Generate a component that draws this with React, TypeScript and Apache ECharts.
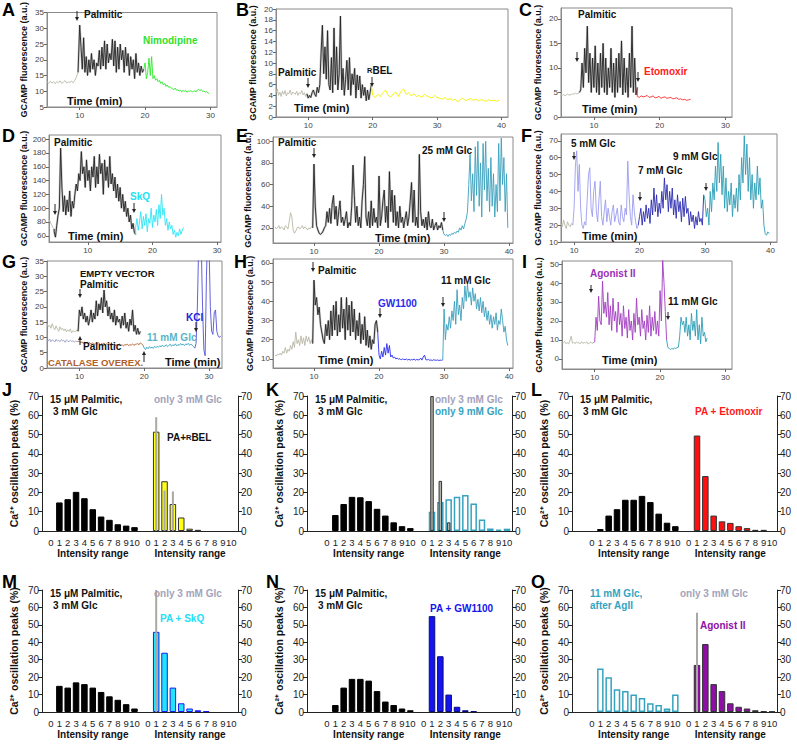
import React, { useEffect, useRef } from 'react';
import * as echarts from 'echarts';

const FONT = "'Liberation Sans', Arial, Helvetica, sans-serif";

// ---------- Trace data (t0, step in min, values) ----------
const A_base = [13,12.5,13.2,12.6,13,12.4,13.1,12.7,13.3,12.5,12.9,13.4,12.6,13,12.8,13.2,12.7,13.5,14.5,16];
const A_palm = [31,24,17,27,16,21,15,20,16,22,17,20,15,19,18,23,17,24,18,26,17,25,19,22,20,26.5,18,26,16,24,17,25,20,23,16,24,18,22,15,21,17,20,14,22,16,19,15,18,16,17];
const A_nimo = [19,14,16,20.5,15,21,14,15,13.5,14,13,13.5,12.5,13,12,12.5,11.5,12,11.2,11.5,11,10.8,10.5,11,10.3,10.5,10,10.4,9.8,10.2,10,10.3,9.7,10.1,9.9,10.2,9.8,10,10.1,9.8,10.4,10.6,10.2,10.5,9.9,10.1,9.7,9.9,9.5,9.3];

const B_base = [4.5,5.2,4,4.6,3.8,4.8,4.2,4.9,3.9,4.5,4.3,5,4.1,4.6,4.4,4.2,4.8,4,4.5,4.3,4.9,4.1,4.5,3.8,4.3];
const B_palm = [3.5,4,3.6,4.5,5,4.2,3.8,5.5,4.5,6,12,17,8,13,7,16,6,5,11,4.5,16.5,6,13,5,8,18.7,5,9,4,7,10.5,5,11,4,8,6,9,3.5,7.8,5,7.6,3.5,6,4,5.5,3,5,3.2,4.5,6];
const B_rbel = [4,3.6,4.2,3.8,4.5,5,4,3.7,4.3,4.6,3.8,4.8,5.2,4.2,4.5,3.9,4.3,3.8,4,3.6,4.2,3.9,3.7,3.5,4,3.6,3.5,3.3,3.6,3.2,3.4,3.1,3.3,2.8,3.2,3.5,3,3.2,3.4,3.1,3.3,3,3.2,3.1,2.9,3.2,3,3.1,2.9,3.1];

const C_base = [4.5,4.4,4.6,4.3,4.5,4.7,4.4,4.6,4.5,4.8,4.6,4.9,4.7,4.8,5];
const C_palm = [5.5,11,6,14,9,18.5,7,13,5,12,6,14.5,5,11,4.5,13,6,15,5,12,4.5,10,6,14,5,11,4,12,5,13,6,15.5,4.5,12,5,10,4,13,6,18.5,5,12,4.5,6];
const C_etom = [4.2,4,4.3,4.1,4.2,4.4,4,4.1,4.3,3.9,4,4.2,3.8,4,4.1,3.8,3.9,4,3.7,3.8,3.9,3.6,3.7,3.5,3.6,3.4,3.5,3.6];

const D_base = [84,80,76,72,70];
const D_palm = [66,58,75,90,100,187,130,95,118,90,112,95,125,88,110,100,120,135,125,150,140,182,150,160,130,170,140,155,125,160,145,175,130,160,135,178,150,165,120,170,140,160,130,175,135,150,125,145,115,135,110,130,100,120,95,110,88,100,80,90,70,78,65,62];
const D_skq = [72,85,68,80,95,70,88,75,92,66,85,78,100,72,90,80,98,75,105,85,120,90,100,75,85,68,80,70,75,62,68,58,65,60,70,62,68,72];

const E_base = [21,19,20,22,19,21,20,18,22,21,19,26,34,30,18,15,17,20,21,19,20,22,19,21,20,18,20,19,21,20];
const E_palm = [79,40,22,18,15,14,15,17,20,22,35,25,38,24,42,50,28,40,22,35,45,25,30,22,28,35,20,25,22,40,78,50,25,40,22,30,20,45,60,86,30,22,35,20,45,22,38,25,30,20,68,22,30,45,55,25,40,20,72,35,55,25,50,22,35,20,40,25,30,20,28,35,22,30,45,62,25,55,22,30,20,88,35,22,28,20,30,18,35,22,20,28,18,22,25,18,22,20,25,18];
const E_glc25 = [14,13,14,12,14,13,15,14,16,15,17,16,20,18,22,19,24,28,35,60,88,45,70,35,95,50,100,40,80,30,98,55,100,45,75,35,85,40,70,30,60,35,98,45,103,60,85,35,70,20];

const F_base = [21,19,23,20,18,22,20,19,21,20];
const F_glc5 = [30,55,64,40,56,30,20,18,22,20,35,50,54,30,25,40,46,28,22,35,46,25,20,28,35,22,30,25,20,28,32,22,26,30,22,20,32,25,22,30,26,58,38,25,20,38,28,22,18,20];
const F_glc7 = [25,30,20,28,22,32,24,30,21,35,26,42,28,38,25,33,27,40,30,48,35,44,28,40,30,42,26,35,24,38,28,34,22,36,25,37,27,30,20,28,22,26,18,25,20,28,22,24,20,38];
const F_glc9 = [35,25,30,20,40,28,45,35,55,40,69,45,62,38,55,30,48,28,40,32,45,25,38,30,42,28,50,35,60,45,73,50,68,40,60,35,50,30,45,35,55,38,48,30,35,20,15,14,16,15];

const G_base = [14.5,13.5,14,13,14.5,13.2,12.5,13.8,12.8,12,13.5,12.5,13,12.2,12.8,11.8,12.5,12,12.8,11.5,12.2,12,11.8,12.5,12];
const G_palm = [19,17,20,16,18,15,17,14,16,19,15,18,16,22,17,21,19,23,18,25.5,20,22,17,20,16,18,15,19,14,17,15,16,13,17,14,18,13,15,12,16,14,19,12,14,11,13,11,12];
const G_catBase = [9.3,8.8,9.5,8.6,9.2,9,8.5,9.4,8.8,9.1,8.6,9.3,8.9,9,8.4,9.2,8.8,8.6,9.1,8.7,8.9,8.5,8.8,8.6,8.7];
const G_catPalm = [8.8,8.2,8.6,8,8.5,8.1,8.4,7.9,8.3,7.8,8.2,8,7.7,8.1,7.9,8.3,7.6,8,7.8,8.2,7.5,7.9,7.7,8,7.4,7.8,7.6,7.9,7.3,7.7,7.5,7.8,7.4,7.6,7.2,7.7,7.5,7.8,7.3,7.6,7.5,7.9,7.4,7.7,7.8,8,7.6,8.2,7.9,7.5];
const G_glc11 = [6.5,6,6.8,6.3,7,6.5,6.8,6.4,7.1,6.7,7,6.8,7.3,6.9,7.5,7,7.2,7.6,7,7.4,7.8,7.1,7.6,7.3,7.9,7.2,7.7,7.4,8,7.5,7.8,7.3,7.9,7.6,8.1,7.4,7.8,7.5,7,6.5];
const G_kcl = [8,20,40,45,40,20,6,4,30,45,40,20,12,11,18,19,12,10.5,10,10.5];

const H_base = [12,11.5,12.5,12,13,12,14,13,16,13,15,14,17,15,19,16,24,18,20,17,22,18,21,17,22,19,21.5,18,20,18];
const H_palm = [51,38,42,33,37,28,24,20,18,28,22,30,20,35,22,38,25,40,22,33,24,42,26,36,20,42,25,38,22,40,24,36,20,30,22,34,18,28,20,32,17,25,16,22,15,20,18,28,30,24];
const H_gw = [12,10,14,11,16,12,18,13,17,11,12,10.5,11,10,10.5,9.8,10.2,9.5,10,9.8,9.6,10,9.5,9.8,9.4,9.7,9.5,10,9.3,9.8,9.5,9.6,10.5,9.4,11,12,9.6,9.5,9.8,9.3,9.5,9.2,9.6,9.4,9.3,9.5,9.2,9.4,9.3,9.5];
const H_glc11 = [36,20,28,25,32,26,35,30,40,28,46,33,38,30,42,36,48,40,49,42,45,38,47,40,44,36,41,35,42,34,40,32,37,30,35,28,33,26,32,28,34,25,30,28,36,30,24,27,20,17];

const I_base = [9,8.5,9.2,8,8.7,7.8,9.5,12,8.3,8.8,8,9,8.4,8.6,7.9,9.1,8.2,8.7,8.4,9,7.8,8.5,8.9,8.2,8.6];
const I_ago = [9,22,15,33,20,18,41,24,30,22,35,18,28,15,32,20,25,14,30,18,24,12,28,16,22,11,26,15,20,10,24,14,32,18,22,12,26,16,20,10,23,14,28,12,22,15,25,13,20,12,36,20,52,40,25,10];
const I_glc11 = [6,5.5,5,5.5,5.2,5.8,5.5,6,6.2,12,22,18,20,14,22,12,18,10,24,15,20,12,26,10,18,8,22,12,14,9,11];

// ---------- Histogram data (intensity range 0..10, % of peaks) ----------
const INTENSITY = [0,1,2,3,4,5,6,7,8,9,10];
const J_palm = [0,14.8,16.5,20.3,17,11.3,7.5,5.8,3.5,2.8,2];
const J_rbel = [0,51.5,25.8,14,7,1.2,0.6,0,0,0,0];
const J_glc3 = [0,59,21,20.5,0,0,0,0,0,0,0];
const K_palm = [0,8.3,14,17.7,17.5,15.5,11.5,8,4.5,2.5,1.5];
const K_glc9 = [0,10,15,16.5,17.7,18.7,14.3,6,1.3,0.7,1.2];
const K_glc3 = [0,70,26,4.5,0,0,0,0,0,0,0];
const L_palm = [0,1,8,11.3,16.2,16.2,18.2,15,9,4.3,2.5];
const L_etom = [0,49.5,28.5,8,5,4.2,2.5,1.5,0.6,0.6,0];
const M_palm = [0,15,14,17,16,14,11.5,9,7,4.5,2];
const M_skq = [0,46,34,14,5,2,1,0.5,0,0,0];
const M_glc3 = [0,70,0,0,0,0,0,0,0,0,0];
const N_palm = [0,4,14,19,19,18,12,6,4,2,1];
const N_gw = [0,55,32,10,3,1,0.5,0,0,0,0];
const O_glc11 = [0,25,20,13,12,10,8,5,4,2,10];
const O_ago = [0,27,39,16,12,5,3,2,1,0.5,0.3];
const O_glc3 = [0,57,0,0,0,0,0,0,0,0,0];

const C_GRAY = '#b9b8a6';
const C_BLACK = '#222222';

type Seg = { t0: number; dt: number; v: number[]; color: string };

const TRACES = [
  { rect: [47, 9, 170, 98], x: [5, 31], y: [5, 35], xt: [10, 20, 30], yt: [5, 10, 15, 20, 25, 30, 35],
    segs: [
      { t0: 5, dt: 0.25, v: A_base, color: C_GRAY },
      { t0: 10, dt: 0.2, v: A_palm, color: C_BLACK },
      { t0: 20, dt: 0.2, v: A_nimo, color: '#2ee82e' },
    ] as Seg[] },
  { rect: [276, 9, 232, 108], x: [5, 41], y: [0, 20], xt: [10, 20, 30, 40], yt: [0, 2, 4, 6, 8, 10, 12, 14, 16, 18, 20],
    segs: [
      { t0: 5, dt: 0.2, v: B_base, color: C_GRAY },
      { t0: 10, dt: 0.2, v: B_palm, color: C_BLACK },
      { t0: 20, dt: 0.4, v: B_rbel, color: '#f2f200' },
    ] as Seg[] },
  { rect: [561, 8, 171, 109], x: [5, 31], y: [0, 22.2], xt: [10, 20, 30], yt: [0, 5, 10, 15, 20],
    segs: [
      { t0: 5, dt: 0.2, v: C_base, color: C_GRAY },
      { t0: 8, dt: 0.2, v: C_palm, color: C_BLACK },
      { t0: 16.6, dt: 0.3, v: C_etom, color: '#ff2a2a' },
    ] as Seg[] },
  { rect: [49, 135, 172, 107], x: [4, 30.6], y: [51, 206], xt: [10, 20, 30], yt: [60, 80, 100, 120, 140, 160, 180, 200],
    segs: [
      { t0: 4, dt: 0.2, v: D_base, color: C_GRAY },
      { t0: 4.8, dt: 0.2, v: D_palm, color: C_BLACK },
      { t0: 17.4, dt: 0.2, v: D_skq, color: '#2ae6f6' },
    ] as Seg[] },
  { rect: [273, 137, 240, 106], x: [3.7, 40.6], y: [6, 104], xt: [10, 20, 30, 40], yt: [20, 40, 60, 80, 100],
    segs: [
      { t0: 4, dt: 0.2, v: E_base, color: C_GRAY },
      { t0: 10, dt: 0.2, v: E_palm, color: C_BLACK },
      { t0: 30, dt: 0.2, v: E_glc25, color: '#3a9fbc' },
    ] as Seg[] },
  { rect: [561, 134, 216, 108], x: [8, 41], y: [10, 74], xt: [10, 20, 30, 40], yt: [10, 20, 30, 40, 50, 60, 70],
    segs: [
      { t0: 8, dt: 0.2, v: F_base, color: C_GRAY },
      { t0: 10, dt: 0.2, v: F_glc5, color: '#9c9cf0' },
      { t0: 20, dt: 0.2, v: F_glc7, color: '#2a2ab0' },
      { t0: 30, dt: 0.2, v: F_glc9, color: '#2d9db6' },
    ] as Seg[] },
  { rect: [47, 261, 175, 107], x: [5, 32], y: [0, 35], xt: [10, 20, 30], yt: [0, 5, 10, 15, 20, 25, 30, 35],
    segs: [
      { t0: 5, dt: 0.2, v: G_base, color: C_GRAY },
      { t0: 10, dt: 0.2, v: G_palm, color: C_BLACK },
      { t0: 5, dt: 0.2, v: G_catBase, color: '#9c9cc8' },
      { t0: 10, dt: 0.2, v: G_catPalm, color: '#b5622e' },
      { t0: 20, dt: 0.2, v: G_glc11, color: '#38a6be' },
      { t0: 28, dt: 0.2, v: G_kcl, color: '#5050d8' },
    ] as Seg[] },
  { rect: [273, 259, 240, 109], x: [3.7, 40.6], y: [5.3, 62], xt: [10, 20, 30, 40], yt: [10, 20, 30, 40, 50, 60],
    segs: [
      { t0: 4, dt: 0.2, v: H_base, color: C_GRAY },
      { t0: 10, dt: 0.2, v: H_palm, color: C_BLACK },
      { t0: 20, dt: 0.2, v: H_gw, color: '#2a2af0' },
      { t0: 30, dt: 0.2, v: H_glc11, color: '#3a9fbc' },
    ] as Seg[] },
  { rect: [562, 261, 170, 108], x: [5, 31], y: [-5.3, 51.6], xt: [10, 20, 30], yt: [0, 10, 20, 30, 40, 50],
    segs: [
      { t0: 5, dt: 0.2, v: I_base, color: C_GRAY },
      { t0: 10, dt: 0.2, v: I_ago, color: '#a23cc0' },
      { t0: 21.2, dt: 0.2, v: I_glc11, color: '#2d9db6' },
    ] as Seg[] },
];

const RIGHT_OFF = 11.6;

type Hist = {
  rect: number[]; xr: number[];
  left: number[]; leftFill: string; leftBorder: string;
  right: number[]; rightFill: string; rightBorder: string;
  over?: number[]; overStyle?: 'line' | 'bar';
};

const HISTS: Hist[] = [
  { rect: [42, 396, 196, 135], xr: [-1.08, 22.4], left: J_palm, leftFill: '#000', leftBorder: '#000',
    right: J_rbel, rightFill: '#ffff1a', rightBorder: '#333', over: J_glc3, overStyle: 'line' },
  { rect: [307, 396, 205, 135], xr: [-2.4, 22.2], left: K_palm, leftFill: '#000', leftBorder: '#000',
    right: K_glc9, rightFill: '#ffffff', rightBorder: '#35a3bf', over: K_glc3, overStyle: 'bar' },
  { rect: [572, 396, 205, 135], xr: [-2.4, 22.2], left: L_palm, leftFill: '#000', leftBorder: '#000',
    right: L_etom, rightFill: '#ff1010', rightBorder: '#333' },
  { rect: [42, 590, 196, 122], xr: [-1.08, 22.4], left: M_palm, leftFill: '#000', leftBorder: '#000',
    right: M_skq, rightFill: '#22e4ff', rightBorder: '#1a1aee', over: M_glc3, overStyle: 'line' },
  { rect: [307, 590, 205, 122], xr: [-2.4, 22.2], left: N_palm, leftFill: '#000', leftBorder: '#000',
    right: N_gw, rightFill: '#1414ee', rightBorder: '#0a0a80' },
  { rect: [572, 590, 205, 122], xr: [-2.4, 22.2], left: O_glc11, leftFill: '#ffffff', leftBorder: '#35a3bf',
    right: O_ago, rightFill: '#8e0fa6', rightBorder: '#333', over: O_glc3, overStyle: 'line' },
];

function txt(x: number, y: number, text: string, size = 10, fill = '#111', align = 'left', weight = 'bold') {
  return { type: 'text', x, y, z: 100, silent: true,
    style: { text, fill, font: `${weight} ${size}px ${FONT}`, textAlign: align, textVerticalAlign: 'middle' } };
}
function arrow(x: number, y1: number, y2: number) {
  const dir = y2 > y1 ? 1 : -1;
  return [
    { type: 'line', z: 100, silent: true, shape: { x1: x, y1, x2: x, y2: y2 - dir * 3 }, style: { stroke: '#222', lineWidth: 1 } },
    { type: 'polygon', z: 100, silent: true, shape: { points: [[x - 2, y2 - dir * 4], [x + 2, y2 - dir * 4], [x, y2]] }, style: { fill: '#222' } },
  ];
}

export default function App() {
  const ref = useRef<HTMLDivElement>(null);
  useEffect(() => {
    if (!ref.current) return;
    const chart = echarts.init(ref.current, undefined, { renderer: 'svg', width: 797, height: 744 });
    const grid: any[] = [], xAxis: any[] = [], yAxis: any[] = [], series: any[] = [];
    const tickLbl = { fontSize: 8, color: '#444', fontFamily: FONT };

    TRACES.forEach((p) => {
      const gi = grid.length;
      grid.push({ left: p.rect[0], top: p.rect[1], width: p.rect[2], height: p.rect[3], show: true, borderColor: '#8a8a8a', borderWidth: 1 });
      const xi = xAxis.length;
      xAxis.push({ gridIndex: gi, type: 'value', min: p.x[0], max: p.x[1],
        axisLine: { show: true, onZero: false, lineStyle: { color: '#8a8a8a' } },
        axisTick: { show: true, customValues: p.xt, length: 3, lineStyle: { color: '#666' } },
        axisLabel: { ...tickLbl, customValues: p.xt, margin: 4 }, splitLine: { show: false } });
      const yi = yAxis.length;
      yAxis.push({ gridIndex: gi, type: 'value', min: p.y[0], max: p.y[1],
        name: 'GCAMP fluorescence (a.u.)', nameLocation: 'middle', nameRotate: 90, nameGap: 19,
        nameTextStyle: { fontSize: 9, fontWeight: 'bold', color: '#111', fontFamily: FONT },
        axisLine: { show: true, onZero: false, lineStyle: { color: '#8a8a8a' } },
        axisTick: { show: true, customValues: p.yt, length: 3, lineStyle: { color: '#666' } },
        axisLabel: { ...tickLbl, customValues: p.yt, margin: 3 }, splitLine: { show: false } });
      let prev: number[] | null = null;
      p.segs.forEach((s, k) => {
        const data = s.v.map((v, i) => [+(s.t0 + i * s.dt).toFixed(3), v]);
        if (prev && k > 0 && s.t0 > prev[0] - 0.01 && s.t0 - prev[0] < 0.6) data.unshift(prev);
        prev = data[data.length - 1];
        if (s.color === C_BLACK) {
          series.push({ type: 'line', xAxisIndex: xi, yAxisIndex: yi, data, showSymbol: false, symbol: 'none', silent: true,
            clip: true, lineStyle: { width: 2.2, color: '#9a9a9a', opacity: 0.55 } });
        }
        series.push({ type: 'line', xAxisIndex: xi, yAxisIndex: yi, data, showSymbol: false, symbol: 'none', silent: true,
          clip: true, lineStyle: { width: s.color === C_BLACK ? 0.9 : 0.9, color: s.color } });
      });
    });

    const histTick = { fontSize: 10, color: '#222', fontFamily: FONT };
    HISTS.forEach((h) => {
      const gi = grid.length;
      grid.push({ left: h.rect[0], top: h.rect[1], width: h.rect[2], height: h.rect[3] });
      const cv = [...INTENSITY, ...INTENSITY.map((i) => i + RIGHT_OFF)];
      const xi = xAxis.length;
      xAxis.push({ gridIndex: gi, type: 'value', min: h.xr[0], max: h.xr[1],
        axisLine: { show: true, onZero: false, lineStyle: { color: '#222' } }, axisTick: { show: false },
        axisLabel: { fontSize: 9.5, color: '#222', fontFamily: FONT, customValues: cv, margin: 6,
          formatter: (v: number) => String(v < 11 ? Math.round(v) : Math.round(v - RIGHT_OFF)) },
        splitLine: { show: false } });
      xAxis.push({ gridIndex: gi, type: 'value', min: h.xr[0], max: h.xr[1], show: false });
      const yi = yAxis.length;
      const yBase = { gridIndex: gi, type: 'value', min: 0, max: 70, interval: 10,
        axisLine: { show: true, onZero: false, lineStyle: { color: '#222' } },
        axisTick: { show: true, length: 4, lineStyle: { color: '#222' } },
        axisLabel: { ...histTick, margin: 3 }, splitLine: { show: false } };
      yAxis.push({ ...yBase, position: 'left', name: 'Ca²⁺ oscillation peaks (%)', nameLocation: 'middle', nameRotate: 90, nameGap: 23,
        nameTextStyle: { fontSize: 10.5, fontWeight: 'bold', color: '#111', fontFamily: FONT } });
      yAxis.push({ ...yBase, position: 'right' });
      const data: any[] = [];
      h.left.forEach((v, i) => { if (v > 0) data.push({ value: [INTENSITY[i], v], itemStyle: { color: h.leftFill, borderColor: h.leftBorder, borderWidth: h.leftFill === '#ffffff' ? 1.5 : 1 } }); });
      h.right.forEach((v, i) => { if (v > 0) data.push({ value: [INTENSITY[i] + RIGHT_OFF, v], itemStyle: { color: h.rightFill, borderColor: h.rightBorder, borderWidth: h.rightFill === '#ffffff' ? 1.5 : 1 } }); });
      series.push({ type: 'bar', xAxisIndex: xi, yAxisIndex: yi, data, barWidth: 6.5, silent: true });
      if (h.over) {
        const od: any[] = [];
        h.over.forEach((v, i) => { if (v > 0) od.push([INTENSITY[i] + RIGHT_OFF, v]); });
        series.push({ type: 'bar', xAxisIndex: xi + 1, yAxisIndex: yi, data: od, z: 5, silent: true,
          barWidth: h.overStyle === 'bar' ? 3.5 : 2,
          itemStyle: h.overStyle === 'bar' ? { color: '#b3b2a8', borderColor: '#333', borderWidth: 1 } : { color: '#a9a9a3' } });
      }
    });

    const g: any[] = [];
    const letters: [string, number, number][] = [
      ['A', 2, 10], ['B', 236, 10], ['C', 519, 10], ['D', 2, 136], ['E', 236, 136], ['F', 521, 136],
      ['G', 2, 262], ['H', 234, 262], ['I', 522, 262], ['J', 2, 390], ['K', 266, 390], ['L', 531, 390],
      ['M', 2, 582], ['N', 266, 582], ['O', 531, 582],
    ];
    letters.forEach(([l, x, y]) => g.push(txt(x, y, l, 18, '#000', 'left', '900')));
    const T = 'Time (min)';
    // A
    g.push(txt(84, 14, 'Palmitic'), ...arrow(77, 11, 21), txt(143, 40, 'Nimodipine', 10, '#30e030'), txt(67, 101, T, 11));
    // B
    g.push(txt(278, 72, 'Palmitic'), ...arrow(308, 78, 88), ...arrow(372, 77, 87), txt(294, 108, T, 11));
    g.push({ type: 'text', x: 367, y: 70, z: 100, silent: true, style: { text: '{s|R}BEL', fill: '#111', font: `bold 10px ${FONT}`, textVerticalAlign: 'middle',
      rich: { s: { fontSize: 7.5, fontWeight: 'bold', fontFamily: FONT, fill: '#111' } } } });
    // C
    g.push(txt(578, 14, 'Palmitic'), ...arrow(577, 52, 62), ...arrow(638, 72, 82), txt(644, 71, 'Etomoxir', 10, '#ff2020'), txt(582, 109, T, 11));
    // D
    g.push(txt(54, 142, 'Palmitic'), ...arrow(55, 204, 215), txt(130, 196, 'SkQ', 10, '#22e0f0'), ...arrow(134, 203, 213), txt(68, 236, T, 11));
    // E
    g.push(txt(278, 142, 'Palmitic'), ...arrow(314, 148, 158), txt(422, 150, '25 mM Glc'), ...arrow(444, 212, 222), txt(375, 238, T, 11));
    // F
    g.push(txt(571, 143, '5 mM Glc'), ...arrow(574, 152, 160), txt(638, 170, '7 mM Glc'), ...arrow(640, 192, 201),
      txt(673, 156, '9 mM Glc'), ...arrow(706, 183, 191), txt(582, 236, T, 11));
    // G
    g.push(txt(80, 273, 'EMPTY VECTOR', 9.5), txt(80, 284, 'Palmitic'), ...arrow(80, 289, 298),
      ...arrow(80, 345, 336), txt(83, 346, 'Palmitic'), txt(48, 362, 'CATALASE OVEREX.', 9.5, '#b0602a'),
      txt(147, 337, '11 mM Glc', 10, '#5ab4c8'), ...arrow(144, 362, 351), txt(186, 317, 'KCl', 10, '#2020e0'), ...arrow(196, 322, 332),
      txt(165, 362, T, 11));
    // H
    g.push(txt(318, 270, 'Palmitic'), ...arrow(313, 262, 272), txt(378, 303, 'GW1100', 10, '#2a2af0'), ...arrow(380, 308, 318),
      txt(441, 280, '11 mM Glc'), ...arrow(443, 297, 307), txt(318, 360, T, 11));
    // I
    g.push(txt(590, 273, 'Agonist II', 10, '#9a30b8'), ...arrow(591, 285, 293), txt(668, 301, '11 mM Glc'), ...arrow(668, 312, 320), txt(602, 360, T, 11));

    // Histogram annotations
    const only3 = '#a3a3bb';
    HISTS.forEach((h, k) => {
      const narrow = h.xr[0] > -2;
      const x0 = h.rect[0] + (narrow ? 9 : 20);
      const sc = (h.rect[2] - (narrow ? 15 : 25)) / 21.6;
      const base = h.rect[1] + h.rect[3];
      g.push(txt(x0 + 5 * sc, base + 22, 'Intensity range', 10, '#111', 'center'));
      g.push(txt(x0 + (RIGHT_OFF + 5) * sc, base + 22, 'Intensity range', 10, '#111', 'center'));
      if (k !== 5) {
        g.push(txt(h.rect[0] + 8, h.rect[1] + 3, '15 μM Palmitic,'), txt(h.rect[0] + 11, h.rect[1] + 15, '3 mM Glc'));
      }
    });
    // J
    g.push(txt(154, 399, 'only 3 mM Glc', 10, only3));
    g.push({ type: 'text', x: 167, y: 437, z: 100, silent: true, style: { text: 'PA+{s|R}BEL', fill: '#111', font: `bold 10px ${FONT}`, textVerticalAlign: 'middle',
      rich: { s: { fontSize: 7.5, fontWeight: 'bold', fontFamily: FONT, fill: '#111' } } } });
    // K
    g.push(txt(435, 399, 'only 3 mM Glc', 10, only3), txt(435, 411, 'only 9 mM Glc', 10, '#35a3bf'));
    // L
    g.push(txt(695, 411, 'PA + Etomoxir', 10, '#ff1a1a'));
    // M
    g.push(txt(154, 593, 'only 3 mM Glc', 10, only3), txt(160, 618, 'PA + SkQ', 10, '#22e0f8'));
    // N
    g.push(txt(430, 608, 'PA + GW1100', 10, '#1414ee'));
    // O
    g.push(txt(590, 593, '11 mM Glc,', 10, '#35a3bf'), txt(590, 605, 'after AgII', 10, '#35a3bf'),
      txt(680, 593, 'only 3 mM Glc', 10, only3), txt(700, 625, 'Agonist II', 10, '#8e0fa6'));

    chart.setOption({ animation: false, backgroundColor: '#fff', grid, xAxis, yAxis, series, graphic: g });
    return () => chart.dispose();
  }, []);
  return <div ref={ref} style={{ position: 'absolute', left: 0, top: 0, width: 797, height: 744 }} />;
}
